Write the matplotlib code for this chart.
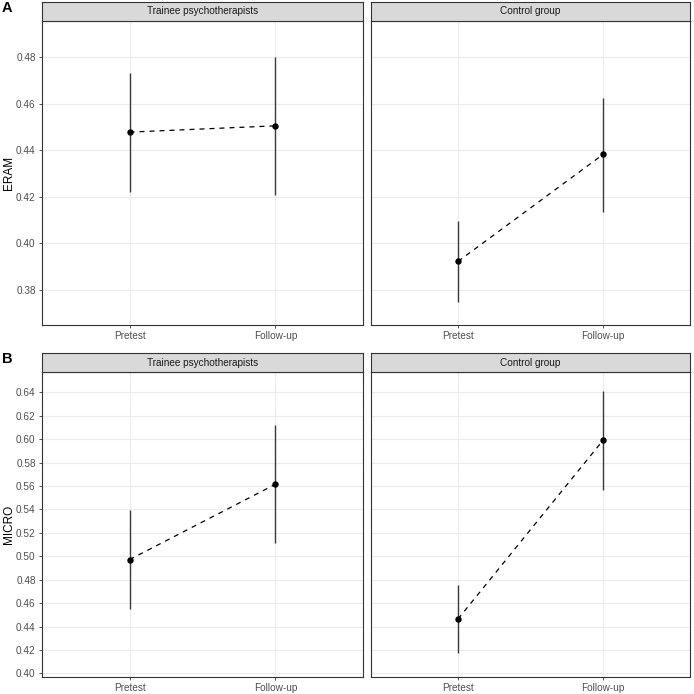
import matplotlib
matplotlib.use("Agg")
import matplotlib.pyplot as plt

plt.rcParams["font.family"] = ["Liberation Sans", "DejaVu Sans"]

TIMES = ["Pretest", "Follow-up"]
GROUPS = ["Trainee psychotherapists", "Control group"]

# ERAM: means and CI bounds per group (Pretest, Follow-up)
eram_mean = {"Trainee psychotherapists": [0.4478, 0.4505], "Control group": [0.3923, 0.4382]}
eram_low = {"Trainee psychotherapists": [0.4222, 0.4208], "Control group": [0.3750, 0.4137]}
eram_high = {"Trainee psychotherapists": [0.4733, 0.4800], "Control group": [0.4097, 0.4625]}

# MICRO
micro_mean = {"Trainee psychotherapists": [0.4972, 0.5615], "Control group": [0.4465, 0.5990]}
micro_low = {"Trainee psychotherapists": [0.4550, 0.5110], "Control group": [0.4175, 0.5565]}
micro_high = {"Trainee psychotherapists": [0.5392, 0.6120], "Control group": [0.4752, 0.6415]}

eram_ticks = [0.38, 0.40, 0.42, 0.44, 0.46, 0.48]
micro_ticks = [0.40, 0.42, 0.44, 0.46, 0.48, 0.50, 0.52, 0.54, 0.56, 0.58, 0.60, 0.62, 0.64]

W = H = 694
fig = plt.figure(figsize=(6.94, 6.94), dpi=100)

GRID = "#EBEBEB"
BORDER = "#333333"
STRIP = "#D9D9D9"
FS = 7.2


def px_axes(x0, y0, x1, y1):
    return fig.add_axes([x0 / W, 1 - y1 / H, (x1 - x0) / W, (y1 - y0) / H])


def draw_panel(ax, means, lows, highs, ylim, ticks, show_y):
    x = [1, 2]
    ax.set_xlim(0.4, 2.6)
    ax.set_ylim(*ylim)
    ax.set_xticks(x)
    ax.set_xticklabels(TIMES)
    ax.set_yticks(ticks)
    ax.set_yticklabels([f"{t:.2f}" for t in ticks])
    ax.grid(True, which="major", color=GRID, lw=0.8, zorder=0)
    ax.set_axisbelow(True)
    ax.tick_params(which="major", length=2.5, width=0.6, color=BORDER,
                   labelsize=FS, labelcolor="#4D4D4D", pad=2)
    if not show_y:
        ax.tick_params(axis="y", which="major", left=False, labelleft=False)
    for s in ax.spines.values():
        s.set_color(BORDER)
        s.set_linewidth(0.8)
    ax.vlines(x, lows, highs, colors="#3A3A3A", lw=1.0, zorder=2)
    ax.plot(x, means, color="black", lw=0.9, ls=(0, (4, 4)), zorder=3)
    ax.plot(x, means, "o", color="black", ms=3.6, zorder=4)


def draw_strip(x0, y0, x1, y1, label):
    sax = px_axes(x0, y0, x1, y1)
    sax.set_xticks([])
    sax.set_yticks([])
    sax.set_facecolor(STRIP)
    for s in sax.spines.values():
        s.set_color(BORDER)
        s.set_linewidth(0.8)
    sax.text(0.5, 0.5, label, ha="center", va="center", fontsize=FS,
             color="#1A1A1A", transform=sax.transAxes)


rows = [
    ("ERAM", "A", eram_mean, eram_low, eram_high, (0.3650, 0.4955), eram_ticks, 2, 21, 325),
    ("MICRO", "B", micro_mean, micro_low, micro_high, (0.3970, 0.6573), micro_ticks, 353, 372, 677),
]
cols = [(42, 363), (371, 690)]

for ylabel, tag, mean, low, high, ylim, ticks, ys, y0, y1 in rows:
    for ci, (group, (x0, x1)) in enumerate(zip(GROUPS, cols)):
        ax = px_axes(x0, y0, x1, y1)
        draw_panel(ax, mean[group], low[group], high[group], ylim, ticks, ci == 0)
        draw_strip(x0, ys, x1, y0, group)
    fig.text(9 / W, 1 - (y0 + y1) / 2 / H, ylabel, rotation=90, ha="center",
             va="center", fontsize=8.5, color="black")
    fig.text(2 / W, 1 - (ys - 1) / H, tag, ha="left", va="top", fontsize=10.5,
             fontweight="bold")

fig.savefig("out.png", dpi=100)
